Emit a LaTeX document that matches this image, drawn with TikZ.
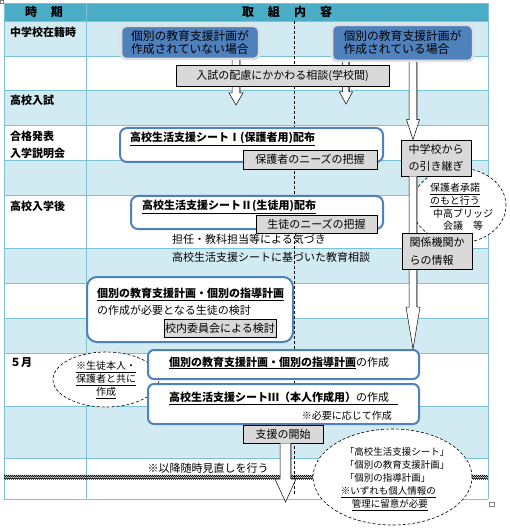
\documentclass[tikz,border=0pt]{standalone}
\usepackage{fontspec}
\setmainfont{Noto Sans CJK JP}
\usetikzlibrary{shapes.geometric,calc,decorations.pathmorphing}
\definecolor{headteal}{HTML}{4BACC6}
\definecolor{rowblue}{HTML}{D2EAF1}
\definecolor{gridblue}{HTML}{7DC3D7}
\definecolor{planblue}{HTML}{4F81BD}
\definecolor{notegray}{HTML}{D9D9D9}
% start, tip, shaft half width, head half width, head length
\newcommand{\hollowarrow}[5]{%
  \draw[fill=white, line width=0.5pt] ($(#1)+(-#3,0)$) -- ($(#2)+(-#3,-#5)$) -- ($(#2)+(-#4,-#5)$)
    -- (#2) -- ($(#2)+(#4,-#5)$) -- ($(#2)+(#3,-#5)$) -- ($(#1)+(#3,0)$);
  \draw[gray, line width=1.2pt] ($(#1)+(#3-0.7,0)$) -- ($(#2)+(#3-0.7,-#5)$);
}
\begin{document}
\begin{tikzpicture}
  [x=1pt, y=-1pt,
  every node/.style={inner sep=0pt, font=\fontsize{11}{13}\selectfont},
  gridline/.style={draw=gridblue, line width=0.8pt},
  headtext/.style={font=\fontsize{12}{14}\selectfont\bfseries},
  period/.style={anchor=west, font=\fontsize{11}{13}\selectfont\bfseries},
  casebox/.style={rectangle, rounded corners=5pt, fill=planblue, draw=gray!25, line width=2.5pt,
    align=left, font=\fontsize{11.8}{13}\selectfont},
  sheetbox/.style={rectangle, rounded corners=7pt, fill=white, draw=planblue, line width=2pt},
  notebox/.style={rectangle, fill=notegray, draw=black, line width=0.6pt},
  dashellipse/.style={ellipse, fill=white, draw=black, line width=0.6pt, dash pattern=on 3pt off 2pt},
  breakline/.style={decorate, decoration={zigzag, amplitude=0.9pt, segment length=2pt}, line width=0.5pt}]
\useasboundingbox (0,0) rectangle (509,529);
% table
\fill[headteal] (4,3) rectangle (488,21);
\foreach \ya/\yb in {21/56, 90/125, 160/195, 248/283, 318/353, 406/458}
  \fill[rowblue] (4,\ya) rectangle (488,\yb);
\foreach \yy in {3,21,56,90,125,160,195,248,283,318,353,406,458,499}
  \draw[gridline] (4,\yy) -- (488,\yy);
\foreach \xx in {4,86,488}
  \draw[gridline] (\xx,3) -- (\xx,499);
\draw[gray, line width=0.5pt] (0,0) rectangle (3,3);
\draw[gray, line width=0.5pt] (489,502) rectangle (494,506.5);
\node[headtext] (hdperiod) at (44,12) {時\hspace{14pt}期};
\node[headtext] (hdwork) at (287,12) {取\hspace{14pt}組\hspace{14pt}内\hspace{14pt}容};
\node[period] (pd1) at (10,32) {中学校在籍時};
\node[period] (pd2) at (10,100) {高校入試};
\node[period, align=left, font=\fontsize{11}{17}\selectfont\bfseries] (pd3) at (10,144.5) {合格発表\\入学説明会};
\node[period] (pd4) at (10,206) {高校入学後};
\node[period] (pd5) at (10,363) {５月};
\draw[dashed, line width=0.6pt, dash pattern=on 3pt off 2pt] (294,21) -- (294,495);
\draw[breakline] (4,476) -- (488,476);
\draw[breakline] (4,478.5) -- (488,478.5);
% notes
\node[dashellipse, minimum width=94pt, minimum height=75pt] (bridge) at (459,205.5) {};
\node[font=\fontsize{10}{12.7}\selectfont, align=left] (bridgetxt) at (461.5,207)
  {\underline{保護者承諾}\\\underline{のもと行う}\\\hspace{3pt}中高ブリッジ\\\hspace{13pt}会議　等};
\node[dashellipse, minimum width=106pt, minimum height=55pt] (together) at (106,379.5) {};
\node[font=\fontsize{10}{13}\selectfont, align=center] (togethertxt) at (106,380)
  {\underline{※生徒本人・}\\\underline{保護者と共に}\\\underline{作成}};
\node[dashellipse, minimum width=159pt, minimum height=96pt] (privacy) at (392.5,477) {};
\node[font=\fontsize{9.5}{13}\selectfont, align=left] (privacytxt) at (395,479)
  {\hspace{4pt}「高校生活支援シート」\\\hspace{4pt}「個別の教育支援計画」\\\hspace{4pt}「個別の指導計画」\\
   \underline{※いずれも個人情報の}\\\hspace{11pt}\underline{管理に留意が必要}};
% steps
\node[casebox, minimum width=138pt, minimum height=33pt] (noplan) at (190,42.5) {個別の教育支援計画が\\作成されていない場合};
\node[casebox, minimum width=141pt, minimum height=36pt] (hasplan) at (402.5,43) {個別の教育支援計画が\\作成されている場合};
\node[notebox, minimum width=70pt, minimum height=36pt, align=left, font=\fontsize{11}{17}\selectfont] (handover) at (436,158) {中学校から\\の引き継ぎ};
\node[sheetbox, minimum width=263pt, minimum height=34pt] (sheetI) at (251.5,145) {};
\node[anchor=west] (sheetItxt) at (130,139) {\underline{\textbf{高校生活支援シートⅠ(保護者用)配布}}};
\node[notebox, minimum width=134pt, minimum height=19pt] (needsP) at (310,159.5) {保護者のニーズの把握};
\node[sheetbox, minimum width=252pt, minimum height=33pt] (sheetII) at (257,212.5) {};
\node[anchor=west] (sheetIItxt) at (142,207) {\underline{\textbf{高校生活支援シートⅡ(生徒用)配布}}};
\node[notebox, minimum width=121pt, minimum height=18pt] (needsS) at (316.5,224) {生徒のニーズの把握};
\node[anchor=west] (notice) at (172,239) {担任・教科担当等による気づき};
\node[anchor=west] (counsel) at (172,257) {高校生活支援シートに基づいた教育相談};
\node[sheetbox, rounded corners=10pt, minimum width=206pt, minimum height=65pt] (review) at (190,309.5) {};
\node[anchor=west, align=left, font=\fontsize{11}{17}\selectfont] (reviewtxt) at (97,301.5)
  {\underline{\textbf{個別の教育支援計画・個別の指導計画}}\\の作成が必要となる生徒の検討};
\node[notebox, minimum width=112pt, minimum height=18pt] (committee) at (220,328) {校内委員会による検討};
\node[sheetbox, rounded corners=6pt, minimum width=271pt, minimum height=29pt] (planmake) at (283.5,364.5) {};
\node[anchor=west] (planmaketxt) at (169,363) {\underline{\textbf{個別の教育支援計画・個別の指導計画}}の作成};
\node[sheetbox, rounded corners=6pt, minimum width=271pt, minimum height=40pt] (sheetIII) at (283.5,404) {};
\node[anchor=west] (sheetIIItxt) at (169,398) {\underline{\textbf{高校生活支援シートⅢ（本人作成用）}の作成\hspace{9pt}}};
\node[anchor=east, font=\fontsize{10}{12}\selectfont] (asneeded) at (392,416) {※必要に応じて作成};
\node[notebox, minimum width=80pt, minimum height=18pt] (kickoff) at (283,434) {支援の開始};
\node (revisit) at (208,468) {※以降随時見直しを行う};
% arrows
\coordinate (tipA) at (236,105);
\coordinate (tipB) at (346,104);
\coordinate (railC) at (413,0);
\coordinate (tipD) at (285.5,502);
\coordinate (startA) at (noplan.south -| tipA);
\coordinate (startB) at (hasplan.south -| tipB);
\coordinate (startC) at (hasplan.south -| railC);
\coordinate (midC) at (handover.north -| railC);
\coordinate (restartC) at (handover.south -| railC);
\coordinate (endC) at (planmake.north -| railC);
\coordinate (startD) at (kickoff.south -| tipD);
\hollowarrow{startA}{tipA}{4}{7}{12}
\hollowarrow{startB}{tipB}{3.5}{6.5}{12}
\hollowarrow{startC}{midC}{4}{6.5}{20}
\hollowarrow{restartC}{endC}{4}{7}{42}
\hollowarrow{startD}{tipD}{5.5}{10.5}{23}
\node[notebox, minimum width=213pt, minimum height=21pt] (consult) at (282.5,75.5) {入試の配慮にかかわる相談(学校間)};
\node[notebox, minimum width=70pt, minimum height=36pt, align=left, font=\fontsize{11}{18}\selectfont] (kankei) at (437,251) {関係機関か\\らの情報};
\end{tikzpicture}
\end{document}
